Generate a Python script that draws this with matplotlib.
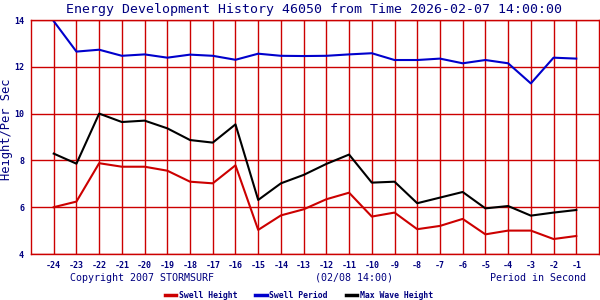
import matplotlib
matplotlib.use('Agg')
import matplotlib.pyplot as plt

# hours before forecast time
hours = list(range(-24, 0))

# swell height (ft), swell period (s), max wave height (ft)
swell_height = [6.00, 6.24, 7.88, 7.73, 7.73, 7.56, 7.09, 7.02, 7.79, 5.03, 5.65, 5.91,
                6.34, 6.62, 5.60, 5.77, 5.06, 5.20, 5.50, 4.84, 5.00, 5.00, 4.64, 4.77]
swell_period = [13.95, 12.65, 12.73, 12.47, 12.53, 12.39, 12.52, 12.47, 12.30, 12.56, 12.47, 12.46,
                12.47, 12.53, 12.58, 12.29, 12.29, 12.35, 12.15, 12.29, 12.15, 11.29, 12.39, 12.35]
max_wave = [8.29, 7.86, 10.00, 9.64, 9.70, 9.37, 8.87, 8.76, 9.54, 6.31, 7.02, 7.38,
            7.85, 8.25, 7.05, 7.09, 6.17, 6.41, 6.65, 5.95, 6.05, 5.64, 5.77, 5.88]

x_ticks = list(range(-24, 0))
y_ticks = [4, 6, 8, 10, 12, 14]

grid_red = '#cc0000'
navy = '#000080'
mono = 'DejaVu Sans Mono'

fig = plt.figure(figsize=(6, 3), dpi=100)
ax = fig.add_axes([31/600, 46/300, 568/600, 234/300])

ax.plot(hours, swell_height, color='#cc0000', lw=1.5, label='Swell Height')
ax.plot(hours, swell_period, color='#0000cc', lw=1.5, label='Swell Period')
ax.plot(hours, max_wave, color='black', lw=1.5, label='Max Wave Height')

ax.set_xlim(-25, 0)
ax.set_ylim(4, 14)
ax.set_xticks(x_ticks)
ax.set_xticklabels([str(h) for h in x_ticks], family=mono, fontsize=6, color=navy, weight='bold')
ax.set_yticks(y_ticks)
ax.set_yticklabels([str(v) for v in y_ticks], family=mono, fontsize=6, color=navy, weight='bold')
ax.tick_params(length=0, pad=5)
ax.grid(True, color=grid_red, lw=1)
ax.set_axisbelow(True)
for s in ax.spines.values():
    s.set_color(grid_red)
    s.set_linewidth(1)

ax.set_ylabel('Height/Per Sec', family=mono, fontsize=8.7, color=navy)
ax.yaxis.set_label_coords(-18/568, 0.534)

fig.text(314/600, 1 - 9/300, 'Energy Development History 46050 from Time 2026-02-07 14:00:00',
         ha='center', va='center', family=mono, fontsize=9.5, color=navy)
fig.text(70/600, 1 - 278/300, 'Copyright 2007 STORMSURF', ha='left', va='center',
         family=mono, fontsize=7.2, color=navy)
fig.text(354/600, 1 - 278/300, '(02/08 14:00)', ha='center', va='center',
         family=mono, fontsize=7.2, color=navy)
fig.text(586/600, 1 - 278/300, 'Period in Second', ha='right', va='center',
         family=mono, fontsize=7.2, color=navy)

leg = fig.legend(loc='center', bbox_to_anchor=(299/600, 1 - 295/300), ncol=3, frameon=False,
                 handlelength=1.4, handletextpad=0.3, columnspacing=2.2,
                 prop={'family': mono, 'size': 5.9, 'weight': 'bold'})
for t in leg.get_texts():
    t.set_color(navy)
for h in leg.get_lines():
    h.set_linewidth(2.5)

fig.savefig('out.png', dpi=100)
